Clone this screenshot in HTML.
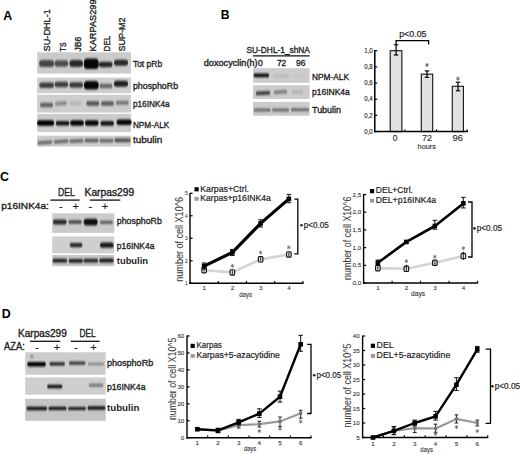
<!DOCTYPE html>
<html><head><meta charset="utf-8"><style>
html,body{margin:0;padding:0;background:#fff;width:520px;height:454px;overflow:hidden}
svg{display:block;font-family:"Liberation Sans", sans-serif}
text{font-family:"Liberation Sans", sans-serif}
</style></head><body>
<svg width="520" height="454" viewBox="0 0 520 454" fill="#1e1e1e">
<g>
<defs><filter id="bl" x="-30%" y="-100%" width="160%" height="300%"><feGaussianBlur stdDeviation="0.75 0.95"/></filter><filter id="soft" x="-5%" y="-5%" width="110%" height="110%"><feGaussianBlur stdDeviation="0.35"/></filter></defs>
<text transform="translate(3.3,20.1)" font-size="12.4" font-weight="bold" fill="#000">A</text>
<text transform="translate(220.8,19.2)" font-size="12.2" font-weight="bold" fill="#000">B</text>
<text transform="translate(-0.1,181.1)" font-size="12.4" font-weight="bold" fill="#000">C</text>
<text transform="translate(1.8,318.2)" font-size="12.4" font-weight="bold" fill="#000">D</text>
<text transform="translate(50.4,51.4) rotate(-90) scale(0.9359,1)" font-size="9.8" stroke="#1e1e1e" stroke-width="0.35">SU-DHL-1</text>
<text transform="translate(65.89999999999999,51.4) rotate(-90) scale(0.7187,1)" font-size="9.8" stroke="#1e1e1e" stroke-width="0.35">TS</text>
<text transform="translate(80.89999999999999,51.4) rotate(-90) scale(0.8705,1)" font-size="9.8" stroke="#1e1e1e" stroke-width="0.35">JB6</text>
<text transform="translate(95.6,51.4) rotate(-90) scale(0.9389,1)" font-size="9.8" stroke="#1e1e1e" stroke-width="0.35">KARPAS299</text>
<text transform="translate(110.39999999999999,51.4) rotate(-90) scale(0.8235,1)" font-size="9.8" stroke="#1e1e1e" stroke-width="0.35">DEL</text>
<text transform="translate(125.3,51.4) rotate(-90) scale(0.9128,1)" font-size="9.8" stroke="#1e1e1e" stroke-width="0.35">SUP-M2</text>
<rect x="37.2" y="52.3" width="93.8" height="21.299999999999997" fill="#cbcbcb" filter="url(#soft)"/>
<rect x="37.2" y="77.6" width="93.8" height="15.600000000000009" fill="#cecece" filter="url(#soft)"/>
<rect x="37.2" y="94.8" width="93.8" height="17.799999999999997" fill="#cdcdcd" filter="url(#soft)"/>
<rect x="37.2" y="113.9" width="93.8" height="18.099999999999994" fill="#cbcbcb" filter="url(#soft)"/>
<rect x="37.2" y="135.6" width="93.8" height="11.0" fill="#cecece" filter="url(#soft)"/>
<rect x="39.00" y="60.10" width="15.20" height="7.00" rx="3.50" fill="#000" fill-opacity="0.66" filter="url(#bl)"/>
<rect x="54.55" y="60.35" width="13.70" height="6.50" rx="3.25" fill="#000" fill-opacity="0.62" filter="url(#bl)"/>
<rect x="69.35" y="59.90" width="13.70" height="7.00" rx="3.50" fill="#000" fill-opacity="0.8" filter="url(#bl)"/>
<rect x="83.95" y="58.55" width="14.70" height="10.50" rx="3.50" fill="#000" fill-opacity="0.97" filter="url(#bl)"/>
<rect x="98.85" y="61.65" width="13.70" height="5.50" rx="2.75" fill="#000" fill-opacity="0.82" filter="url(#bl)"/>
<rect x="113.90" y="59.70" width="14.20" height="6.00" rx="3.00" fill="#000" fill-opacity="0.8" filter="url(#bl)"/>
<rect x="39.25" y="82.45" width="14.70" height="5.50" rx="2.75" fill="#000" fill-opacity="0.7" filter="url(#bl)"/>
<rect x="54.55" y="81.85" width="13.70" height="5.50" rx="2.75" fill="#000" fill-opacity="0.7" filter="url(#bl)"/>
<rect x="69.35" y="82.25" width="13.70" height="5.50" rx="2.75" fill="#000" fill-opacity="0.72" filter="url(#bl)"/>
<rect x="83.95" y="81.05" width="14.70" height="8.50" rx="3.50" fill="#000" fill-opacity="0.97" filter="url(#bl)"/>
<rect x="99.30" y="83.75" width="13.20" height="4.50" rx="2.25" fill="#000" fill-opacity="0.5" filter="url(#bl)"/>
<rect x="113.90" y="80.70" width="14.20" height="6.00" rx="3.00" fill="#000" fill-opacity="0.85" filter="url(#bl)"/>
<rect x="40.00" y="102.65" width="13.20" height="4.50" rx="2.25" fill="#000" fill-opacity="0.52" filter="url(#bl)"/>
<rect x="54.90" y="101.50" width="12.20" height="4.00" rx="2.00" fill="#000" fill-opacity="0.34" filter="url(#bl)" transform="rotate(-5 61.0 103.5)"/>
<rect x="69.60" y="101.45" width="12.20" height="3.50" rx="1.75" fill="#000" fill-opacity="0.12" filter="url(#bl)"/>
<rect x="86.20" y="101.15" width="13.20" height="4.50" rx="2.25" fill="#000" fill-opacity="0.6" filter="url(#bl)"/>
<rect x="100.90" y="101.25" width="13.20" height="4.50" rx="2.25" fill="#000" fill-opacity="0.55" filter="url(#bl)"/>
<rect x="115.70" y="100.80" width="13.20" height="4.00" rx="2.00" fill="#000" fill-opacity="0.42" filter="url(#bl)"/>
<rect x="37.00" y="120.25" width="17.20" height="5.50" rx="2.75" fill="#000" fill-opacity="1.0" filter="url(#bl)"/>
<rect x="55.75" y="121.05" width="13.70" height="4.50" rx="2.25" fill="#000" fill-opacity="0.92" filter="url(#bl)"/>
<rect x="70.15" y="120.25" width="13.70" height="5.50" rx="2.75" fill="#000" fill-opacity="0.97" filter="url(#bl)"/>
<rect x="84.95" y="120.15" width="13.70" height="5.50" rx="2.75" fill="#000" fill-opacity="0.97" filter="url(#bl)"/>
<rect x="100.35" y="121.10" width="13.70" height="4.60" rx="2.30" fill="#000" fill-opacity="0.9" filter="url(#bl)"/>
<rect x="116.50" y="119.45" width="15.20" height="5.50" rx="2.75" fill="#000" fill-opacity="0.97" filter="url(#bl)"/>
<rect x="37.40" y="140.75" width="15.20" height="3.50" rx="1.75" fill="#000" fill-opacity="0.5" filter="url(#bl)" transform="rotate(-4 45 142.5)"/>
<rect x="53.85" y="139.85" width="14.70" height="3.50" rx="1.75" fill="#000" fill-opacity="0.5" filter="url(#bl)" transform="rotate(-4 61.2 141.6)"/>
<rect x="69.40" y="139.35" width="14.20" height="3.50" rx="1.75" fill="#000" fill-opacity="0.5" filter="url(#bl)" transform="rotate(-3 76.5 141.1)"/>
<rect x="84.40" y="138.85" width="14.20" height="3.50" rx="1.75" fill="#000" fill-opacity="0.55" filter="url(#bl)"/>
<rect x="99.40" y="138.95" width="14.20" height="3.50" rx="1.75" fill="#000" fill-opacity="0.5" filter="url(#bl)"/>
<rect x="114.40" y="138.20" width="16.20" height="4.00" rx="2.00" fill="#000" fill-opacity="0.6" filter="url(#bl)"/>
<text transform="translate(132.9,66.7) scale(0.8856,1)" font-size="9.6" stroke="#1e1e1e" stroke-width="0.35">Tot pRb</text>
<text transform="translate(132.9,88.6) scale(0.9204,1)" font-size="9.6" stroke="#1e1e1e" stroke-width="0.35">phosphoRb</text>
<text transform="translate(132.9,107.0) scale(0.8595,1)" font-size="9.6" stroke="#1e1e1e" stroke-width="0.35">p16INK4a</text>
<text transform="translate(132.9,128.0) scale(0.8506,1)" font-size="9.6" stroke="#1e1e1e" stroke-width="0.35">NPM-ALK</text>
<text transform="translate(132.9,143.1) scale(1.0357,1)" font-size="9.6" stroke="#1e1e1e" stroke-width="0.35">tubulin</text>
<text transform="translate(246.5,52.6) scale(0.8873,1)" font-size="9.4" stroke="#1e1e1e" stroke-width="0.35">SU-DHL-1_shNA</text>
<line x1="253.0" y1="55.8" x2="309.6" y2="55.8" stroke="#111" stroke-width="1.3"/>
<text transform="translate(203.8,66.2) scale(1.0619,1)" font-size="8.6" stroke="#1e1e1e" stroke-width="0.35">doxocyclin(h)</text>
<text transform="translate(258.0,66.2)" font-size="8.6" stroke="#1e1e1e" stroke-width="0.35">0</text>
<text transform="translate(277.0,66.2) scale(0.9618,1)" font-size="8.6" stroke="#1e1e1e" stroke-width="0.35">72</text>
<text transform="translate(296.0,66.2) scale(0.9827,1)" font-size="8.6" stroke="#1e1e1e" stroke-width="0.35">96</text>
<rect x="253.0" y="68.2" width="56.60000000000002" height="14.599999999999994" fill="#cdcdcd" filter="url(#soft)"/>
<rect x="253.0" y="85.2" width="56.60000000000002" height="13.700000000000003" fill="#cbcbcb" filter="url(#soft)"/>
<rect x="253.0" y="101.9" width="56.60000000000002" height="13.899999999999991" fill="#cbcbcb" filter="url(#soft)"/>
<rect x="253.55" y="73.40" width="15.70" height="3.80" rx="1.90" fill="#000" fill-opacity="0.95" filter="url(#bl)"/>
<rect x="272.90" y="74.40" width="16.20" height="3.00" rx="1.50" fill="#000" fill-opacity="0.1" filter="url(#bl)"/>
<rect x="293.40" y="74.50" width="13.20" height="3.00" rx="1.50" fill="#000" fill-opacity="0.04" filter="url(#bl)"/>
<rect x="255.65" y="91.30" width="14.70" height="3.80" rx="1.90" fill="#000" fill-opacity="0.7" filter="url(#bl)" transform="rotate(-3 263.0 93.2)"/>
<rect x="273.55" y="90.50" width="13.70" height="3.00" rx="1.50" fill="#000" fill-opacity="0.45" filter="url(#bl)" transform="rotate(-4 280.4 92.0)"/>
<rect x="291.55" y="90.40" width="11.70" height="2.80" rx="1.40" fill="#000" fill-opacity="0.15" filter="url(#bl)"/>
<rect x="253.60" y="108.40" width="17.20" height="3.00" rx="1.50" fill="#000" fill-opacity="0.5" filter="url(#bl)"/>
<rect x="272.00" y="108.60" width="17.20" height="3.00" rx="1.50" fill="#000" fill-opacity="0.5" filter="url(#bl)"/>
<rect x="290.90" y="108.30" width="18.20" height="3.00" rx="1.50" fill="#000" fill-opacity="0.5" filter="url(#bl)"/>
<text transform="translate(312.0,79.8) scale(0.9146,1)" font-size="9.1" stroke="#1e1e1e" stroke-width="0.35">NPM-ALK</text>
<text transform="translate(312.0,95.0) scale(0.9339,1)" font-size="9.1" stroke="#1e1e1e" stroke-width="0.35">p16INK4a</text>
<text transform="translate(312.0,112.9) scale(0.9828,1)" font-size="9.1" stroke="#1e1e1e" stroke-width="0.35">Tubulin</text>
<rect x="390.2" y="50.7" width="11.699999999999989" height="80.89999999999999" fill="#e2e2e2" stroke="#111" stroke-width="1.1" />
<rect x="421.3" y="74.161" width="11.399999999999977" height="57.43899999999999" fill="#e2e2e2" stroke="#111" stroke-width="1.1" />
<rect x="452.3" y="86.29599999999999" width="11.099999999999966" height="45.304" fill="#e2e2e2" stroke="#111" stroke-width="1.1" />
<line x1="374.8" y1="50.0" x2="374.8" y2="132.2" stroke="#000" stroke-width="1.5"/>
<line x1="374.0" y1="131.6" x2="467.8" y2="131.6" stroke="#000" stroke-width="1.5"/>
<line x1="374.8" y1="131.6" x2="377.2" y2="131.6" stroke="#000" stroke-width="1.2"/>
<line x1="374.8" y1="115.41999999999999" x2="377.2" y2="115.41999999999999" stroke="#000" stroke-width="1.2"/>
<line x1="374.8" y1="99.24" x2="377.2" y2="99.24" stroke="#000" stroke-width="1.2"/>
<line x1="374.8" y1="83.06" x2="377.2" y2="83.06" stroke="#000" stroke-width="1.2"/>
<line x1="374.8" y1="66.88" x2="377.2" y2="66.88" stroke="#000" stroke-width="1.2"/>
<line x1="374.8" y1="50.7" x2="377.2" y2="50.7" stroke="#000" stroke-width="1.2"/>
<line x1="405.0" y1="131.6" x2="405.0" y2="129.4" stroke="#000" stroke-width="1.2"/>
<line x1="436.5" y1="131.6" x2="436.5" y2="129.4" stroke="#000" stroke-width="1.2"/>
<line x1="467.2" y1="131.6" x2="467.2" y2="129.4" stroke="#000" stroke-width="1.2"/>
<text transform="translate(372.8,133.79999999999998) scale(0.9373,1)" font-size="6.6" stroke="#1e1e1e" stroke-width="0.12" text-anchor="end">0,0</text>
<text transform="translate(372.8,117.61999999999999) scale(0.9373,1)" font-size="6.6" stroke="#1e1e1e" stroke-width="0.12" text-anchor="end">0,2</text>
<text transform="translate(372.8,101.44) scale(0.9373,1)" font-size="6.6" stroke="#1e1e1e" stroke-width="0.12" text-anchor="end">0,4</text>
<text transform="translate(372.8,85.26) scale(0.9373,1)" font-size="6.6" stroke="#1e1e1e" stroke-width="0.12" text-anchor="end">0,6</text>
<text transform="translate(372.8,69.08) scale(0.9373,1)" font-size="6.6" stroke="#1e1e1e" stroke-width="0.12" text-anchor="end">0,8</text>
<text transform="translate(372.8,52.900000000000006) scale(0.9373,1)" font-size="6.6" stroke="#1e1e1e" stroke-width="0.12" text-anchor="end">1,0</text>
<line x1="396.1" y1="44.8" x2="396.1" y2="55.0" stroke="#000" stroke-width="1.2"/>
<line x1="393.90000000000003" y1="44.8" x2="398.3" y2="44.8" stroke="#000" stroke-width="1.2"/>
<line x1="393.90000000000003" y1="55.0" x2="398.3" y2="55.0" stroke="#000" stroke-width="1.2"/>
<line x1="427.0" y1="70.9" x2="427.0" y2="77.4" stroke="#000" stroke-width="1.2"/>
<line x1="424.8" y1="70.9" x2="429.2" y2="70.9" stroke="#000" stroke-width="1.2"/>
<line x1="424.8" y1="77.4" x2="429.2" y2="77.4" stroke="#000" stroke-width="1.2"/>
<line x1="458.0" y1="82.2" x2="458.0" y2="90.8" stroke="#000" stroke-width="1.2"/>
<line x1="455.8" y1="82.2" x2="460.2" y2="82.2" stroke="#000" stroke-width="1.2"/>
<line x1="455.8" y1="90.8" x2="460.2" y2="90.8" stroke="#000" stroke-width="1.2"/>
<path d="M427.00 63.00L427.00 67.00M425.27 64.00L428.73 66.00M428.73 64.00L425.27 66.00" stroke="#555" stroke-width="0.8" fill="none"/>
<path d="M458.00 76.60L458.00 80.60M456.27 77.60L459.73 79.60M459.73 77.60L456.27 79.60" stroke="#555" stroke-width="0.8" fill="none"/>
<path d="M396.1 44.8 V40.6 H428.6 V44.4" stroke="#000" stroke-width="1.3" fill="none" />
<text transform="translate(399.2,37.2) scale(1.0051,1)" font-size="8.8" stroke="#1e1e1e" stroke-width="0.2">p&lt;0.05</text>
<text transform="translate(395.0,141.3)" font-size="8.4" stroke="#1e1e1e" stroke-width="0.1" text-anchor="middle">0</text>
<text transform="translate(427.0,141.3) scale(1.0703,1)" font-size="8.4" stroke="#1e1e1e" stroke-width="0.1" text-anchor="middle">72</text>
<text transform="translate(457.8,141.3) scale(1.1238,1)" font-size="8.4" stroke="#1e1e1e" stroke-width="0.1" text-anchor="middle">96</text>
<text transform="translate(426.8,148.6) scale(0.9195,1)" font-size="8.0" stroke="#1e1e1e" stroke-width="0.1" text-anchor="middle">hours</text>
<text transform="translate(1.2,209.3) scale(1.0322,1)" font-size="9.8" stroke="#1e1e1e" stroke-width="0.35">p16INK4a:</text>
<text transform="translate(58.0,195.9) scale(0.8739,1)" font-size="10.0" stroke="#1e1e1e" stroke-width="0.35">DEL</text>
<text transform="translate(84.6,196.2) scale(1.0254,1)" font-size="10.0" stroke="#1e1e1e" stroke-width="0.35">Karpas299</text>
<line x1="50.4" y1="200.1" x2="79.6" y2="200.1" stroke="#111" stroke-width="1.3"/>
<line x1="89.8" y1="200.1" x2="120.3" y2="200.1" stroke="#111" stroke-width="1.3"/>
<text transform="translate(60.8,210.3)" font-size="11.0" stroke="#1e1e1e" stroke-width="0.15" text-anchor="middle">-</text>
<text transform="translate(75.7,210.3)" font-size="11.0" stroke="#1e1e1e" stroke-width="0.15" text-anchor="middle">+</text>
<text transform="translate(90.3,210.3)" font-size="11.0" stroke="#1e1e1e" stroke-width="0.15" text-anchor="middle">-</text>
<text transform="translate(105.0,210.3)" font-size="11.0" stroke="#1e1e1e" stroke-width="0.15" text-anchor="middle">+</text>
<rect x="52.2" y="213.3" width="62.099999999999994" height="19.599999999999994" fill="#cbcbcb" filter="url(#soft)"/>
<rect x="52.2" y="236.4" width="62.099999999999994" height="17.0" fill="#cfcfcf" filter="url(#soft)"/>
<rect x="52.2" y="255.0" width="62.099999999999994" height="11.199999999999989" fill="#c6c6c6" filter="url(#soft)"/>
<rect x="52.95" y="219.40" width="13.70" height="5.00" rx="2.50" fill="#000" fill-opacity="0.8" filter="url(#bl)"/>
<rect x="68.25" y="220.20" width="13.70" height="3.60" rx="1.80" fill="#000" fill-opacity="0.66" filter="url(#bl)"/>
<rect x="83.60" y="218.70" width="14.20" height="6.80" rx="3.40" fill="#000" fill-opacity="0.92" filter="url(#bl)"/>
<rect x="99.80" y="220.70" width="13.20" height="3.20" rx="1.60" fill="#000" fill-opacity="0.55" filter="url(#bl)"/>
<rect x="69.60" y="242.95" width="13.00" height="4.30" rx="2.15" fill="#000" fill-opacity="0.82" filter="url(#bl)"/>
<rect x="99.95" y="242.55" width="13.70" height="5.30" rx="2.65" fill="#000" fill-opacity="0.88" filter="url(#bl)"/>
<rect x="52.45" y="258.80" width="14.70" height="3.80" rx="1.90" fill="#000" fill-opacity="0.85" filter="url(#bl)"/>
<rect x="68.45" y="258.90" width="14.70" height="3.80" rx="1.90" fill="#000" fill-opacity="0.85" filter="url(#bl)"/>
<rect x="83.45" y="258.80" width="14.70" height="3.80" rx="1.90" fill="#000" fill-opacity="0.82" filter="url(#bl)"/>
<rect x="99.15" y="258.60" width="14.70" height="3.80" rx="1.90" fill="#000" fill-opacity="0.87" filter="url(#bl)"/>
<text transform="translate(116.8,224.2) scale(0.9184,1)" font-size="9.6" stroke="#1e1e1e" stroke-width="0.35">phosphoRb</text>
<text transform="translate(116.8,249.1) scale(0.8806,1)" font-size="9.6" stroke="#1e1e1e" stroke-width="0.35">p16INK4a</text>
<text transform="translate(116.8,264.1) scale(0.9754,1)" font-size="9.6" font-weight="bold">tubulin</text>
<line x1="190.0" y1="193.0" x2="190.0" y2="283.9" stroke="#000" stroke-width="1.4"/>
<line x1="189.3" y1="283.2" x2="303.5" y2="283.2" stroke="#000" stroke-width="1.4"/>
<line x1="190.0" y1="283.2" x2="192.6" y2="283.2" stroke="#000" stroke-width="1.2"/>
<line x1="190.0" y1="260.71999999999997" x2="192.6" y2="260.71999999999997" stroke="#000" stroke-width="1.2"/>
<line x1="190.0" y1="238.23999999999998" x2="192.6" y2="238.23999999999998" stroke="#000" stroke-width="1.2"/>
<line x1="190.0" y1="215.76" x2="192.6" y2="215.76" stroke="#000" stroke-width="1.2"/>
<line x1="190.0" y1="193.27999999999997" x2="192.6" y2="193.27999999999997" stroke="#000" stroke-width="1.2"/>
<line x1="218.25" y1="283.2" x2="218.25" y2="281.0" stroke="#000" stroke-width="1.1"/>
<line x1="246.5" y1="283.2" x2="246.5" y2="281.0" stroke="#000" stroke-width="1.1"/>
<line x1="274.75" y1="283.2" x2="274.75" y2="281.0" stroke="#000" stroke-width="1.1"/>
<line x1="303.0" y1="283.2" x2="303.0" y2="281.0" stroke="#000" stroke-width="1.1"/>
<text transform="translate(187.6,285.3) scale(0.7540,1)" font-size="6.2" stroke="#333" stroke-width="0.1" text-anchor="end" fill="#333">1</text>
<text transform="translate(187.6,262.82) scale(0.7540,1)" font-size="6.2" stroke="#333" stroke-width="0.1" text-anchor="end" fill="#333">2</text>
<text transform="translate(187.6,240.33999999999997) scale(0.7540,1)" font-size="6.2" stroke="#333" stroke-width="0.1" text-anchor="end" fill="#333">3</text>
<text transform="translate(187.6,217.85999999999999) scale(0.7540,1)" font-size="6.2" stroke="#333" stroke-width="0.1" text-anchor="end" fill="#333">4</text>
<text transform="translate(187.6,195.37999999999997) scale(0.7540,1)" font-size="6.2" stroke="#333" stroke-width="0.1" text-anchor="end" fill="#333">5</text>
<text transform="translate(204.125,290.3)" font-size="6.2" stroke="#333" stroke-width="0.1" text-anchor="middle" fill="#333">1</text>
<text transform="translate(232.375,290.3)" font-size="6.2" stroke="#333" stroke-width="0.1" text-anchor="middle" fill="#333">2</text>
<text transform="translate(260.625,290.3)" font-size="6.2" stroke="#333" stroke-width="0.1" text-anchor="middle" fill="#333">3</text>
<text transform="translate(288.875,290.3)" font-size="6.2" stroke="#333" stroke-width="0.1" text-anchor="middle" fill="#333">4</text>
<text transform="translate(245.6,297.4) scale(0.9468,1)" font-size="6.4" stroke="#333" stroke-width="0.1" text-anchor="middle" fill="#333">days</text>
<polyline points="204.1,270.2 232.4,272.4 260.6,259.4 288.9,254.4" fill="none" stroke="#d4d4d4" stroke-width="2.6" stroke-linejoin="round"/>
<line x1="204.125" y1="271.5104" x2="204.125" y2="268.58799999999997" stroke="#111" stroke-width="0.9"/>
<rect x="201.82" y="267.46" width="4.6" height="5.4" rx="1.0" fill="#e6e6e6" stroke="#111" stroke-width="1.1"/>
<line x1="204.125" y1="271.5104" x2="204.125" y2="268.58799999999997" stroke="#111" stroke-width="0.9"/>
<line x1="232.375" y1="274.20799999999997" x2="232.375" y2="270.6112" stroke="#111" stroke-width="0.9"/>
<rect x="230.07" y="269.71" width="4.6" height="5.4" rx="1.0" fill="#e6e6e6" stroke="#111" stroke-width="1.1"/>
<line x1="232.375" y1="274.20799999999997" x2="232.375" y2="270.6112" stroke="#111" stroke-width="0.9"/>
<line x1="260.625" y1="260.71999999999997" x2="260.625" y2="257.5728" stroke="#111" stroke-width="0.9"/>
<rect x="258.32" y="256.67" width="4.6" height="5.4" rx="1.0" fill="#e6e6e6" stroke="#111" stroke-width="1.1"/>
<line x1="260.625" y1="260.71999999999997" x2="260.625" y2="257.5728" stroke="#111" stroke-width="0.9"/>
<line x1="288.875" y1="256.67359999999996" x2="288.875" y2="252.17759999999998" stroke="#111" stroke-width="0.9"/>
<rect x="286.57" y="251.73" width="4.6" height="5.4" rx="1.0" fill="#e6e6e6" stroke="#111" stroke-width="1.1"/>
<line x1="288.875" y1="256.67359999999996" x2="288.875" y2="252.17759999999998" stroke="#111" stroke-width="0.9"/>
<polyline points="204.1,266.1 232.4,252.4 260.6,223.4 288.9,198.9" fill="none" stroke="#000" stroke-width="3.2" stroke-linejoin="round"/>
<line x1="204.125" y1="269.0376" x2="204.125" y2="262.96799999999996" stroke="#111" stroke-width="1.0"/>
<line x1="201.825" y1="269.0376" x2="206.425" y2="269.0376" stroke="#111" stroke-width="1.0"/>
<line x1="201.825" y1="262.96799999999996" x2="206.425" y2="262.96799999999996" stroke="#111" stroke-width="1.0"/>
<rect x="201.825" y="263.81519999999995" width="4.6" height="4.6" fill="#000" />
<line x1="232.375" y1="255.5496" x2="232.375" y2="249.48" stroke="#111" stroke-width="1.0"/>
<line x1="230.075" y1="255.5496" x2="234.675" y2="255.5496" stroke="#111" stroke-width="1.0"/>
<line x1="230.075" y1="249.48" x2="234.675" y2="249.48" stroke="#111" stroke-width="1.0"/>
<rect x="230.075" y="250.1024" width="4.6" height="4.6" fill="#000" />
<line x1="260.625" y1="227.0" x2="260.625" y2="219.8064" stroke="#111" stroke-width="1.0"/>
<line x1="258.325" y1="227.0" x2="262.925" y2="227.0" stroke="#111" stroke-width="1.0"/>
<line x1="258.325" y1="219.8064" x2="262.925" y2="219.8064" stroke="#111" stroke-width="1.0"/>
<rect x="258.325" y="221.10319999999996" width="4.6" height="4.6" fill="#000" />
<line x1="288.875" y1="202.72159999999997" x2="288.875" y2="194.404" stroke="#111" stroke-width="1.0"/>
<line x1="286.575" y1="202.72159999999997" x2="291.175" y2="202.72159999999997" stroke="#111" stroke-width="1.0"/>
<line x1="286.575" y1="194.404" x2="291.175" y2="194.404" stroke="#111" stroke-width="1.0"/>
<rect x="286.575" y="196.59999999999997" width="4.6" height="4.6" fill="#000" />
<path d="M232.38 263.90L232.38 267.90M230.64 264.90L234.11 266.90M234.11 264.90L230.64 266.90" stroke="#666" stroke-width="0.8" fill="none"/>
<path d="M260.62 250.50L260.62 254.50M258.89 251.50L262.36 253.50M262.36 251.50L258.89 253.50" stroke="#666" stroke-width="0.8" fill="none"/>
<path d="M288.88 245.30L288.88 249.30M287.14 246.30L290.61 248.30M290.61 246.30L287.14 248.30" stroke="#666" stroke-width="0.8" fill="none"/>
<path d="M294.4 199.1 H297.8 V253.8 H294.4" stroke="#000" stroke-width="1.3" fill="none" />
<circle cx="301.50" cy="225.30" r="1.3" fill="#222"/>
<text transform="translate(303.8,227.9) scale(0.9681,1)" font-size="8.4" stroke="#1e1e1e" stroke-width="0.2">p&lt;0.05</text>
<rect x="194.5" y="187.2" width="4.2" height="4.2" fill="#000" />
<rect x="194.5" y="197.0" width="4.2" height="3.8" fill="#9a9a9a" />
<text transform="translate(200.3,191.6) scale(0.9928,1)" font-size="8.8" stroke="#1e1e1e" stroke-width="0.2">Karpas+Ctrl.</text>
<text transform="translate(200.3,201.2) scale(0.9784,1)" font-size="8.8" stroke="#1e1e1e" stroke-width="0.2">Karpas+p16INK4a</text>
<text transform="translate(183.3,281.7) rotate(-90) scale(0.8224,1)" font-size="11.0" stroke="#3a3a3a" stroke-width="0.05" fill="#3a3a3a">number of cell X10^6</text>
<line x1="363.6" y1="194.0" x2="363.6" y2="283.7" stroke="#000" stroke-width="1.4"/>
<line x1="362.90000000000003" y1="283.0" x2="478.1" y2="283.0" stroke="#000" stroke-width="1.4"/>
<line x1="363.6" y1="283.0" x2="366.20000000000005" y2="283.0" stroke="#000" stroke-width="1.2"/>
<line x1="363.6" y1="265.3" x2="366.20000000000005" y2="265.3" stroke="#000" stroke-width="1.2"/>
<line x1="363.6" y1="247.6" x2="366.20000000000005" y2="247.6" stroke="#000" stroke-width="1.2"/>
<line x1="363.6" y1="229.9" x2="366.20000000000005" y2="229.9" stroke="#000" stroke-width="1.2"/>
<line x1="363.6" y1="212.2" x2="366.20000000000005" y2="212.2" stroke="#000" stroke-width="1.2"/>
<line x1="363.6" y1="194.5" x2="366.20000000000005" y2="194.5" stroke="#000" stroke-width="1.2"/>
<line x1="392.1" y1="283.0" x2="392.1" y2="280.8" stroke="#000" stroke-width="1.1"/>
<line x1="420.6" y1="283.0" x2="420.6" y2="280.8" stroke="#000" stroke-width="1.1"/>
<line x1="449.1" y1="283.0" x2="449.1" y2="280.8" stroke="#000" stroke-width="1.1"/>
<line x1="477.6" y1="283.0" x2="477.6" y2="280.8" stroke="#000" stroke-width="1.1"/>
<text transform="translate(361.2,285.1)" font-size="6.2" stroke="#333" stroke-width="0.1" text-anchor="end" fill="#333">0,0</text>
<text transform="translate(361.2,267.40000000000003)" font-size="6.2" stroke="#333" stroke-width="0.1" text-anchor="end" fill="#333">0,5</text>
<text transform="translate(361.2,249.7)" font-size="6.2" stroke="#333" stroke-width="0.1" text-anchor="end" fill="#333">1,0</text>
<text transform="translate(361.2,232.0)" font-size="6.2" stroke="#333" stroke-width="0.1" text-anchor="end" fill="#333">1,5</text>
<text transform="translate(361.2,214.29999999999998)" font-size="6.2" stroke="#333" stroke-width="0.1" text-anchor="end" fill="#333">2,0</text>
<text transform="translate(361.2,196.6)" font-size="6.2" stroke="#333" stroke-width="0.1" text-anchor="end" fill="#333">2,5</text>
<text transform="translate(377.85,289.6)" font-size="6.2" stroke="#333" stroke-width="0.1" text-anchor="middle" fill="#333">1</text>
<text transform="translate(406.35,289.6)" font-size="6.2" stroke="#333" stroke-width="0.1" text-anchor="middle" fill="#333">2</text>
<text transform="translate(434.85,289.6)" font-size="6.2" stroke="#333" stroke-width="0.1" text-anchor="middle" fill="#333">3</text>
<text transform="translate(463.35,289.6)" font-size="6.2" stroke="#333" stroke-width="0.1" text-anchor="middle" fill="#333">4</text>
<text transform="translate(418.0,295.8) scale(1.0356,1)" font-size="6.4" stroke="#333" stroke-width="0.1" text-anchor="middle" fill="#333">days</text>
<polyline points="377.9,268.1 406.4,268.8 434.9,262.8 463.4,256.1" fill="none" stroke="#d4d4d4" stroke-width="2.6" stroke-linejoin="round"/>
<line x1="377.85" y1="269.548" x2="377.85" y2="266.008" stroke="#111" stroke-width="0.9"/>
<rect x="375.55" y="265.43" width="4.6" height="5.4" rx="1.0" fill="#e6e6e6" stroke="#111" stroke-width="1.1"/>
<line x1="377.85" y1="269.548" x2="377.85" y2="266.008" stroke="#111" stroke-width="0.9"/>
<line x1="406.35" y1="272.026" x2="406.35" y2="264.946" stroke="#111" stroke-width="0.9"/>
<rect x="404.05" y="266.14" width="4.6" height="5.4" rx="1.0" fill="#e6e6e6" stroke="#111" stroke-width="1.1"/>
<line x1="406.35" y1="272.026" x2="406.35" y2="264.946" stroke="#111" stroke-width="0.9"/>
<line x1="434.85" y1="264.946" x2="434.85" y2="261.052" stroke="#111" stroke-width="0.9"/>
<rect x="432.55" y="260.12" width="4.6" height="5.4" rx="1.0" fill="#e6e6e6" stroke="#111" stroke-width="1.1"/>
<line x1="434.85" y1="264.946" x2="434.85" y2="261.052" stroke="#111" stroke-width="0.9"/>
<line x1="463.35" y1="259.636" x2="463.35" y2="251.848" stroke="#111" stroke-width="0.9"/>
<rect x="461.05" y="253.40" width="4.6" height="5.4" rx="1.0" fill="#e6e6e6" stroke="#111" stroke-width="1.1"/>
<line x1="463.35" y1="259.636" x2="463.35" y2="251.848" stroke="#111" stroke-width="0.9"/>
<polyline points="377.9,262.8 406.4,241.9 434.9,226.0 463.4,203.4" fill="none" stroke="#000" stroke-width="2.6" stroke-linejoin="round"/>
<line x1="377.85" y1="265.3" x2="377.85" y2="259.99" stroke="#111" stroke-width="1.0"/>
<line x1="375.55" y1="265.3" x2="380.15000000000003" y2="265.3" stroke="#111" stroke-width="1.0"/>
<line x1="375.55" y1="259.99" x2="380.15000000000003" y2="259.99" stroke="#111" stroke-width="1.0"/>
<rect x="375.55" y="260.522" width="4.6" height="4.6" fill="#000" />
<line x1="406.35" y1="243.352" x2="406.35" y2="240.52" stroke="#111" stroke-width="1.0"/>
<line x1="404.05" y1="243.352" x2="408.65000000000003" y2="243.352" stroke="#111" stroke-width="1.0"/>
<line x1="404.05" y1="240.52" x2="408.65000000000003" y2="240.52" stroke="#111" stroke-width="1.0"/>
<rect x="404.05" y="239.636" width="4.6" height="4.6" fill="#000" />
<line x1="434.85" y1="229.192" x2="434.85" y2="220.34199999999998" stroke="#111" stroke-width="1.0"/>
<line x1="432.55" y1="229.192" x2="437.15000000000003" y2="229.192" stroke="#111" stroke-width="1.0"/>
<line x1="432.55" y1="220.34199999999998" x2="437.15000000000003" y2="220.34199999999998" stroke="#111" stroke-width="1.0"/>
<rect x="432.55" y="223.706" width="4.6" height="4.6" fill="#000" />
<line x1="463.35" y1="207.952" x2="463.35" y2="197.332" stroke="#111" stroke-width="1.0"/>
<line x1="461.05" y1="207.952" x2="465.65000000000003" y2="207.952" stroke="#111" stroke-width="1.0"/>
<line x1="461.05" y1="197.332" x2="465.65000000000003" y2="197.332" stroke="#111" stroke-width="1.0"/>
<rect x="461.05" y="201.05" width="4.6" height="4.6" fill="#000" />
<path d="M406.35 259.20L406.35 263.20M404.62 260.20L408.08 262.20M408.08 260.20L404.62 262.20" stroke="#666" stroke-width="0.8" fill="none"/>
<path d="M434.85 254.70L434.85 258.70M433.12 255.70L436.58 257.70M436.58 255.70L433.12 257.70" stroke="#666" stroke-width="0.8" fill="none"/>
<path d="M463.35 246.20L463.35 250.20M461.62 247.20L465.08 249.20M465.08 247.20L461.62 249.20" stroke="#666" stroke-width="0.8" fill="none"/>
<path d="M468.0 202.0 H472.0 V257.0 H468.0" stroke="#000" stroke-width="1.3" fill="none" />
<circle cx="474.50" cy="228.40" r="1.3" fill="#222"/>
<text transform="translate(476.8,231.0) scale(0.9720,1)" font-size="8.4" stroke="#1e1e1e" stroke-width="0.2">p&lt;0.05</text>
<rect x="370.0" y="189.0" width="4.2" height="4.2" fill="#000" />
<rect x="370.0" y="198.8" width="4.2" height="3.8" fill="#9a9a9a" />
<text transform="translate(375.8,193.4) scale(0.9690,1)" font-size="8.8" stroke="#1e1e1e" stroke-width="0.2">DEL+Ctrl.</text>
<text transform="translate(375.8,203.0) scale(0.9821,1)" font-size="8.8" stroke="#1e1e1e" stroke-width="0.2">DEL+p16INK4a</text>
<text transform="translate(350.8,279.9) rotate(-90) scale(0.8088,1)" font-size="11.0" stroke="#3a3a3a" stroke-width="0.05" fill="#3a3a3a">number of cell X10^6</text>
<text transform="translate(17.9,337.4) scale(1.0130,1)" font-size="10.0" stroke="#1e1e1e" stroke-width="0.35">Karpas299</text>
<text transform="translate(79.4,337.4) scale(0.8430,1)" font-size="10.0" stroke="#1e1e1e" stroke-width="0.35">DEL</text>
<line x1="30.0" y1="341.3" x2="60.2" y2="341.3" stroke="#111" stroke-width="1.3"/>
<line x1="70.8" y1="341.3" x2="99.6" y2="341.3" stroke="#111" stroke-width="1.3"/>
<text transform="translate(4.0,350.2) scale(0.9358,1)" font-size="10.0" stroke="#1e1e1e" stroke-width="0.35">AZA:</text>
<text transform="translate(37.1,351.3)" font-size="11.0" stroke="#1e1e1e" stroke-width="0.15" text-anchor="middle">-</text>
<text transform="translate(56.9,351.3)" font-size="11.0" stroke="#1e1e1e" stroke-width="0.15" text-anchor="middle">+</text>
<text transform="translate(76.2,351.3)" font-size="11.0" stroke="#1e1e1e" stroke-width="0.15" text-anchor="middle">-</text>
<text transform="translate(93.5,351.3)" font-size="11.0" stroke="#1e1e1e" stroke-width="0.15" text-anchor="middle">+</text>
<rect x="25.2" y="352.3" width="80.5" height="22.5" fill="#cccccc" filter="url(#soft)"/>
<rect x="25.2" y="377.4" width="80.5" height="17.30000000000001" fill="#cecece" filter="url(#soft)"/>
<rect x="25.2" y="398.8" width="80.5" height="22.0" fill="#c4c4c4" filter="url(#soft)"/>
<rect x="27.25" y="362.10" width="18.70" height="4.40" rx="2.20" fill="#000" fill-opacity="1.0" filter="url(#bl)"/>
<rect x="49.35" y="362.15" width="15.70" height="3.30" rx="1.65" fill="#000" fill-opacity="0.85" filter="url(#bl)"/>
<rect x="68.75" y="361.40" width="16.90" height="3.40" rx="1.70" fill="#000" fill-opacity="0.72" filter="url(#bl)"/>
<rect x="87.80" y="362.75" width="16.20" height="2.50" rx="1.25" fill="#000" fill-opacity="0.35" filter="url(#bl)"/>
<rect x="29.95" y="355.50" width="3.70" height="2.20" rx="1.10" fill="#000" fill-opacity="0.45" filter="url(#bl)"/>
<rect x="47.10" y="384.65" width="15.40" height="3.50" rx="1.75" fill="#000" fill-opacity="0.92" filter="url(#bl)"/>
<rect x="88.65" y="383.80" width="14.70" height="3.00" rx="1.50" fill="#000" fill-opacity="0.45" filter="url(#bl)"/>
<rect x="26.45" y="406.80" width="20.70" height="3.40" rx="1.70" fill="#000" fill-opacity="0.93" filter="url(#bl)"/>
<rect x="48.40" y="406.70" width="18.20" height="3.40" rx="1.70" fill="#000" fill-opacity="0.92" filter="url(#bl)"/>
<rect x="67.90" y="406.90" width="18.20" height="3.20" rx="1.60" fill="#000" fill-opacity="0.88" filter="url(#bl)"/>
<rect x="87.40" y="406.30" width="18.20" height="3.40" rx="1.70" fill="#000" fill-opacity="0.92" filter="url(#bl)"/>
<text transform="translate(107.0,365.8) scale(0.9408,1)" font-size="9.6" stroke="#1e1e1e" stroke-width="0.35">phosphoRb</text>
<text transform="translate(107.0,389.5) scale(0.9017,1)" font-size="9.6" stroke="#1e1e1e" stroke-width="0.35">p16INK4a</text>
<text transform="translate(107.0,411.0) scale(1.0129,1)" font-size="9.6" font-weight="bold">tubulin</text>
<line x1="187.0" y1="335.6" x2="187.0" y2="438.4" stroke="#000" stroke-width="1.4"/>
<line x1="186.3" y1="437.7" x2="311.5" y2="437.7" stroke="#000" stroke-width="1.4"/>
<line x1="187.0" y1="437.7" x2="189.6" y2="437.7" stroke="#000" stroke-width="1.2"/>
<line x1="187.0" y1="420.75" x2="189.6" y2="420.75" stroke="#000" stroke-width="1.2"/>
<line x1="187.0" y1="403.8" x2="189.6" y2="403.8" stroke="#000" stroke-width="1.2"/>
<line x1="187.0" y1="386.84999999999997" x2="189.6" y2="386.84999999999997" stroke="#000" stroke-width="1.2"/>
<line x1="187.0" y1="369.9" x2="189.6" y2="369.9" stroke="#000" stroke-width="1.2"/>
<line x1="187.0" y1="352.95" x2="189.6" y2="352.95" stroke="#000" stroke-width="1.2"/>
<line x1="187.0" y1="336.0" x2="189.6" y2="336.0" stroke="#000" stroke-width="1.2"/>
<line x1="207.66666666666666" y1="437.7" x2="207.66666666666666" y2="435.5" stroke="#000" stroke-width="1.1"/>
<line x1="228.33333333333334" y1="437.7" x2="228.33333333333334" y2="435.5" stroke="#000" stroke-width="1.1"/>
<line x1="249.0" y1="437.7" x2="249.0" y2="435.5" stroke="#000" stroke-width="1.1"/>
<line x1="269.6666666666667" y1="437.7" x2="269.6666666666667" y2="435.5" stroke="#000" stroke-width="1.1"/>
<line x1="290.33333333333337" y1="437.7" x2="290.33333333333337" y2="435.5" stroke="#000" stroke-width="1.1"/>
<line x1="311.0" y1="437.7" x2="311.0" y2="435.5" stroke="#000" stroke-width="1.1"/>
<text transform="translate(184.3,439.8)" font-size="6.2" stroke="#333" stroke-width="0.1" text-anchor="end" fill="#333">0</text>
<text transform="translate(184.3,422.85)" font-size="6.2" stroke="#333" stroke-width="0.1" text-anchor="end" fill="#333">10</text>
<text transform="translate(184.3,405.90000000000003)" font-size="6.2" stroke="#333" stroke-width="0.1" text-anchor="end" fill="#333">20</text>
<text transform="translate(184.3,388.95)" font-size="6.2" stroke="#333" stroke-width="0.1" text-anchor="end" fill="#333">30</text>
<text transform="translate(184.3,372.0)" font-size="6.2" stroke="#333" stroke-width="0.1" text-anchor="end" fill="#333">40</text>
<text transform="translate(184.3,355.05)" font-size="6.2" stroke="#333" stroke-width="0.1" text-anchor="end" fill="#333">50</text>
<text transform="translate(184.3,338.1)" font-size="6.2" stroke="#333" stroke-width="0.1" text-anchor="end" fill="#333">60</text>
<text transform="translate(197.33333333333334,445.0)" font-size="6.2" stroke="#333" stroke-width="0.1" text-anchor="middle" fill="#333">1</text>
<text transform="translate(218.0,445.0)" font-size="6.2" stroke="#333" stroke-width="0.1" text-anchor="middle" fill="#333">2</text>
<text transform="translate(238.66666666666669,445.0)" font-size="6.2" stroke="#333" stroke-width="0.1" text-anchor="middle" fill="#333">3</text>
<text transform="translate(259.33333333333337,445.0)" font-size="6.2" stroke="#333" stroke-width="0.1" text-anchor="middle" fill="#333">4</text>
<text transform="translate(280.0,445.0)" font-size="6.2" stroke="#333" stroke-width="0.1" text-anchor="middle" fill="#333">5</text>
<text transform="translate(300.6666666666667,445.0)" font-size="6.2" stroke="#333" stroke-width="0.1" text-anchor="middle" fill="#333">6</text>
<text transform="translate(250.0,450.5) scale(0.9246,1)" font-size="6.4" stroke="#333" stroke-width="0.1" text-anchor="middle" fill="#333">days</text>
<polyline points="197.3,429.2 218.0,430.8 238.7,425.2 259.3,424.1 280.0,421.4 300.7,413.3" fill="none" stroke="#9a9a9a" stroke-width="2.2" stroke-linejoin="round"/>
<rect x="195.73333333333335" y="427.62499999999994" width="3.2" height="3.2" fill="#777" />
<line x1="218.0" y1="432.615" x2="218.0" y2="428.54699999999997" stroke="#222" stroke-width="1.0"/>
<line x1="216.1" y1="432.615" x2="219.9" y2="432.615" stroke="#222" stroke-width="1.0"/>
<line x1="216.1" y1="428.54699999999997" x2="219.9" y2="428.54699999999997" stroke="#222" stroke-width="1.0"/>
<rect x="216.4" y="429.15049999999997" width="3.2" height="3.2" fill="#777" />
<line x1="238.66666666666669" y1="428.0385" x2="238.66666666666669" y2="422.95349999999996" stroke="#222" stroke-width="1.0"/>
<line x1="236.76666666666668" y1="428.0385" x2="240.5666666666667" y2="428.0385" stroke="#222" stroke-width="1.0"/>
<line x1="236.76666666666668" y1="422.95349999999996" x2="240.5666666666667" y2="422.95349999999996" stroke="#222" stroke-width="1.0"/>
<rect x="237.0666666666667" y="423.55699999999996" width="3.2" height="3.2" fill="#777" />
<line x1="259.33333333333337" y1="427.0215" x2="259.33333333333337" y2="421.25849999999997" stroke="#222" stroke-width="1.0"/>
<line x1="257.4333333333334" y1="427.0215" x2="261.23333333333335" y2="427.0215" stroke="#222" stroke-width="1.0"/>
<line x1="257.4333333333334" y1="421.25849999999997" x2="261.23333333333335" y2="421.25849999999997" stroke="#222" stroke-width="1.0"/>
<rect x="257.73333333333335" y="422.53999999999996" width="3.2" height="3.2" fill="#777" />
<line x1="280.0" y1="426.6825" x2="280.0" y2="417.021" stroke="#222" stroke-width="1.0"/>
<line x1="278.1" y1="426.6825" x2="281.9" y2="426.6825" stroke="#222" stroke-width="1.0"/>
<line x1="278.1" y1="417.021" x2="281.9" y2="417.021" stroke="#222" stroke-width="1.0"/>
<rect x="278.4" y="419.828" width="3.2" height="3.2" fill="#777" />
<line x1="300.6666666666667" y1="418.2075" x2="300.6666666666667" y2="410.241" stroke="#222" stroke-width="1.0"/>
<line x1="298.7666666666667" y1="418.2075" x2="302.56666666666666" y2="418.2075" stroke="#222" stroke-width="1.0"/>
<line x1="298.7666666666667" y1="410.241" x2="302.56666666666666" y2="410.241" stroke="#222" stroke-width="1.0"/>
<rect x="299.06666666666666" y="411.69199999999995" width="3.2" height="3.2" fill="#777" />
<polyline points="197.3,429.2 218.0,430.4 238.7,422.3 259.3,413.6 280.0,396.7 300.7,344.3" fill="none" stroke="#000" stroke-width="2.4" stroke-linejoin="round"/>
<rect x="195.03333333333333" y="426.92499999999995" width="4.6" height="4.6" fill="#000" />
<line x1="218.0" y1="432.615" x2="218.0" y2="428.20799999999997" stroke="#111" stroke-width="1.0"/>
<line x1="215.7" y1="432.615" x2="220.3" y2="432.615" stroke="#111" stroke-width="1.0"/>
<line x1="215.7" y1="428.20799999999997" x2="220.3" y2="428.20799999999997" stroke="#111" stroke-width="1.0"/>
<rect x="215.7" y="428.1115" width="4.6" height="4.6" fill="#000" />
<line x1="238.66666666666669" y1="424.9875" x2="238.66666666666669" y2="419.394" stroke="#111" stroke-width="1.0"/>
<line x1="236.36666666666667" y1="424.9875" x2="240.9666666666667" y2="424.9875" stroke="#111" stroke-width="1.0"/>
<line x1="236.36666666666667" y1="419.394" x2="240.9666666666667" y2="419.394" stroke="#111" stroke-width="1.0"/>
<rect x="236.36666666666667" y="419.97549999999995" width="4.6" height="4.6" fill="#000" />
<line x1="259.33333333333337" y1="417.36" x2="259.33333333333337" y2="408.885" stroke="#111" stroke-width="1.0"/>
<line x1="257.03333333333336" y1="417.36" x2="261.6333333333334" y2="417.36" stroke="#111" stroke-width="1.0"/>
<line x1="257.03333333333336" y1="408.885" x2="261.6333333333334" y2="408.885" stroke="#111" stroke-width="1.0"/>
<rect x="257.03333333333336" y="411.33099999999996" width="4.6" height="4.6" fill="#000" />
<line x1="280.0" y1="402.105" x2="280.0" y2="391.0875" stroke="#111" stroke-width="1.0"/>
<line x1="277.7" y1="402.105" x2="282.3" y2="402.105" stroke="#111" stroke-width="1.0"/>
<line x1="277.7" y1="391.0875" x2="282.3" y2="391.0875" stroke="#111" stroke-width="1.0"/>
<rect x="277.7" y="394.381" width="4.6" height="4.6" fill="#000" />
<line x1="300.6666666666667" y1="351.255" x2="300.6666666666667" y2="335.322" stroke="#111" stroke-width="1.0"/>
<line x1="298.3666666666667" y1="351.255" x2="302.9666666666667" y2="351.255" stroke="#111" stroke-width="1.0"/>
<line x1="298.3666666666667" y1="335.322" x2="302.9666666666667" y2="335.322" stroke="#111" stroke-width="1.0"/>
<rect x="298.3666666666667" y="342.0055" width="4.6" height="4.6" fill="#000" />
<path d="M259.33 429.00L259.33 433.00M257.60 430.00L261.07 432.00M261.07 430.00L257.60 432.00" stroke="#666" stroke-width="0.8" fill="none"/>
<path d="M280.00 426.80L280.00 430.80M278.27 427.80L281.73 429.80M281.73 427.80L278.27 429.80" stroke="#666" stroke-width="0.8" fill="none"/>
<path d="M300.67 419.60L300.67 423.60M298.93 420.60L302.40 422.60M302.40 420.60L298.93 422.60" stroke="#666" stroke-width="0.8" fill="none"/>
<path d="M307.2 344.3 H311.0 V413.5 H307.2" stroke="#000" stroke-width="1.3" fill="none" />
<circle cx="314.20" cy="375.20" r="1.3" fill="#222"/>
<text transform="translate(316.5,377.8) scale(0.9527,1)" font-size="8.4" stroke="#1e1e1e" stroke-width="0.2">p&lt;0.05</text>
<rect x="190.6" y="343.8" width="4.2" height="4.2" fill="#000" />
<rect x="190.6" y="354.1" width="4.2" height="3.8" fill="#9a9a9a" />
<text transform="translate(196.4,348.2) scale(0.9145,1)" font-size="8.8" stroke="#1e1e1e" stroke-width="0.2">Karpas</text>
<text transform="translate(196.4,358.3) scale(0.9850,1)" font-size="8.8" stroke="#1e1e1e" stroke-width="0.2">Karpas+5-azacytidine</text>
<text transform="translate(175.8,420.1) rotate(-90) scale(0.8010,1)" font-size="11.0" stroke="#3a3a3a" stroke-width="0.05" fill="#3a3a3a">number of cell X10^5</text>
<line x1="362.6" y1="335.6" x2="362.6" y2="438.2" stroke="#000" stroke-width="1.4"/>
<line x1="361.90000000000003" y1="437.5" x2="488.2" y2="437.5" stroke="#000" stroke-width="1.4"/>
<line x1="362.6" y1="437.5" x2="365.20000000000005" y2="437.5" stroke="#000" stroke-width="1.2"/>
<line x1="362.6" y1="423.0" x2="365.20000000000005" y2="423.0" stroke="#000" stroke-width="1.2"/>
<line x1="362.6" y1="408.5" x2="365.20000000000005" y2="408.5" stroke="#000" stroke-width="1.2"/>
<line x1="362.6" y1="394.0" x2="365.20000000000005" y2="394.0" stroke="#000" stroke-width="1.2"/>
<line x1="362.6" y1="379.5" x2="365.20000000000005" y2="379.5" stroke="#000" stroke-width="1.2"/>
<line x1="362.6" y1="365.0" x2="365.20000000000005" y2="365.0" stroke="#000" stroke-width="1.2"/>
<line x1="362.6" y1="350.5" x2="365.20000000000005" y2="350.5" stroke="#000" stroke-width="1.2"/>
<line x1="362.6" y1="336.0" x2="365.20000000000005" y2="336.0" stroke="#000" stroke-width="1.2"/>
<line x1="383.45000000000005" y1="437.5" x2="383.45000000000005" y2="435.3" stroke="#000" stroke-width="1.1"/>
<line x1="404.3" y1="437.5" x2="404.3" y2="435.3" stroke="#000" stroke-width="1.1"/>
<line x1="425.15" y1="437.5" x2="425.15" y2="435.3" stroke="#000" stroke-width="1.1"/>
<line x1="446.0" y1="437.5" x2="446.0" y2="435.3" stroke="#000" stroke-width="1.1"/>
<line x1="466.85" y1="437.5" x2="466.85" y2="435.3" stroke="#000" stroke-width="1.1"/>
<line x1="487.7" y1="437.5" x2="487.7" y2="435.3" stroke="#000" stroke-width="1.1"/>
<text transform="translate(359.6,439.6)" font-size="6.2" stroke="#333" stroke-width="0.1" text-anchor="end" fill="#333">5</text>
<text transform="translate(359.6,425.1)" font-size="6.2" stroke="#333" stroke-width="0.1" text-anchor="end" fill="#333">10</text>
<text transform="translate(359.6,410.6)" font-size="6.2" stroke="#333" stroke-width="0.1" text-anchor="end" fill="#333">15</text>
<text transform="translate(359.6,396.1)" font-size="6.2" stroke="#333" stroke-width="0.1" text-anchor="end" fill="#333">20</text>
<text transform="translate(359.6,381.6)" font-size="6.2" stroke="#333" stroke-width="0.1" text-anchor="end" fill="#333">25</text>
<text transform="translate(359.6,367.1)" font-size="6.2" stroke="#333" stroke-width="0.1" text-anchor="end" fill="#333">30</text>
<text transform="translate(359.6,352.6)" font-size="6.2" stroke="#333" stroke-width="0.1" text-anchor="end" fill="#333">35</text>
<text transform="translate(359.6,338.1)" font-size="6.2" stroke="#333" stroke-width="0.1" text-anchor="end" fill="#333">40</text>
<text transform="translate(373.02500000000003,446.0)" font-size="6.2" stroke="#333" stroke-width="0.1" text-anchor="middle" fill="#333">1</text>
<text transform="translate(393.875,446.0)" font-size="6.2" stroke="#333" stroke-width="0.1" text-anchor="middle" fill="#333">2</text>
<text transform="translate(414.725,446.0)" font-size="6.2" stroke="#333" stroke-width="0.1" text-anchor="middle" fill="#333">3</text>
<text transform="translate(435.575,446.0)" font-size="6.2" stroke="#333" stroke-width="0.1" text-anchor="middle" fill="#333">4</text>
<text transform="translate(456.425,446.0)" font-size="6.2" stroke="#333" stroke-width="0.1" text-anchor="middle" fill="#333">5</text>
<text transform="translate(477.275,446.0)" font-size="6.2" stroke="#333" stroke-width="0.1" text-anchor="middle" fill="#333">6</text>
<text transform="translate(426.6,452.3) scale(0.9246,1)" font-size="6.4" stroke="#333" stroke-width="0.1" text-anchor="middle" fill="#333">days</text>
<polyline points="373.0,437.5 393.9,430.8 414.7,428.2 435.6,428.5 456.4,418.9 477.3,423.0" fill="none" stroke="#9a9a9a" stroke-width="2.2" stroke-linejoin="round"/>
<rect x="371.425" y="435.9" width="3.2" height="3.2" fill="#777" />
<line x1="393.875" y1="434.6" x2="393.875" y2="427.06" stroke="#222" stroke-width="1.0"/>
<line x1="391.975" y1="434.6" x2="395.775" y2="434.6" stroke="#222" stroke-width="1.0"/>
<line x1="391.975" y1="427.06" x2="395.775" y2="427.06" stroke="#222" stroke-width="1.0"/>
<rect x="392.275" y="429.22999999999996" width="3.2" height="3.2" fill="#777" />
<line x1="414.725" y1="432.57" x2="414.725" y2="424.45" stroke="#222" stroke-width="1.0"/>
<line x1="412.82500000000005" y1="432.57" x2="416.625" y2="432.57" stroke="#222" stroke-width="1.0"/>
<line x1="412.82500000000005" y1="424.45" x2="416.625" y2="424.45" stroke="#222" stroke-width="1.0"/>
<rect x="413.125" y="426.62" width="3.2" height="3.2" fill="#777" />
<line x1="435.575" y1="432.28" x2="435.575" y2="424.16" stroke="#222" stroke-width="1.0"/>
<line x1="433.675" y1="432.28" x2="437.47499999999997" y2="432.28" stroke="#222" stroke-width="1.0"/>
<line x1="433.675" y1="424.16" x2="437.47499999999997" y2="424.16" stroke="#222" stroke-width="1.0"/>
<rect x="433.97499999999997" y="426.90999999999997" width="3.2" height="3.2" fill="#777" />
<line x1="456.425" y1="423.0" x2="456.425" y2="414.88" stroke="#222" stroke-width="1.0"/>
<line x1="454.52500000000003" y1="423.0" x2="458.325" y2="423.0" stroke="#222" stroke-width="1.0"/>
<line x1="454.52500000000003" y1="414.88" x2="458.325" y2="414.88" stroke="#222" stroke-width="1.0"/>
<rect x="454.825" y="417.34" width="3.2" height="3.2" fill="#777" />
<line x1="477.275" y1="425.9" x2="477.275" y2="420.1" stroke="#222" stroke-width="1.0"/>
<line x1="475.375" y1="425.9" x2="479.17499999999995" y2="425.9" stroke="#222" stroke-width="1.0"/>
<line x1="475.375" y1="420.1" x2="479.17499999999995" y2="420.1" stroke="#222" stroke-width="1.0"/>
<rect x="475.67499999999995" y="421.4" width="3.2" height="3.2" fill="#777" />
<polyline points="373.0,437.5 393.9,430.8 414.7,423.0 435.6,416.3 456.4,384.7 477.3,349.3" fill="none" stroke="#000" stroke-width="2.4" stroke-linejoin="round"/>
<rect x="370.725" y="435.2" width="4.6" height="4.6" fill="#000" />
<line x1="393.875" y1="434.6" x2="393.875" y2="426.48" stroke="#111" stroke-width="1.0"/>
<line x1="391.575" y1="434.6" x2="396.175" y2="434.6" stroke="#111" stroke-width="1.0"/>
<line x1="391.575" y1="426.48" x2="396.175" y2="426.48" stroke="#111" stroke-width="1.0"/>
<rect x="391.575" y="428.53" width="4.6" height="4.6" fill="#000" />
<line x1="414.725" y1="425.9" x2="414.725" y2="420.1" stroke="#111" stroke-width="1.0"/>
<line x1="412.425" y1="425.9" x2="417.02500000000003" y2="425.9" stroke="#111" stroke-width="1.0"/>
<line x1="412.425" y1="420.1" x2="417.02500000000003" y2="420.1" stroke="#111" stroke-width="1.0"/>
<rect x="412.425" y="420.7" width="4.6" height="4.6" fill="#000" />
<line x1="435.575" y1="420.1" x2="435.575" y2="411.4" stroke="#111" stroke-width="1.0"/>
<line x1="433.275" y1="420.1" x2="437.875" y2="420.1" stroke="#111" stroke-width="1.0"/>
<line x1="433.275" y1="411.4" x2="437.875" y2="411.4" stroke="#111" stroke-width="1.0"/>
<rect x="433.275" y="414.03" width="4.6" height="4.6" fill="#000" />
<line x1="456.425" y1="390.52" x2="456.425" y2="377.76" stroke="#111" stroke-width="1.0"/>
<line x1="454.125" y1="390.52" x2="458.725" y2="390.52" stroke="#111" stroke-width="1.0"/>
<line x1="454.125" y1="377.76" x2="458.725" y2="377.76" stroke="#111" stroke-width="1.0"/>
<rect x="454.125" y="382.42" width="4.6" height="4.6" fill="#000" />
<line x1="477.275" y1="352.24" x2="477.275" y2="346.44" stroke="#111" stroke-width="1.0"/>
<line x1="474.97499999999997" y1="352.24" x2="479.575" y2="352.24" stroke="#111" stroke-width="1.0"/>
<line x1="474.97499999999997" y1="346.44" x2="479.575" y2="346.44" stroke="#111" stroke-width="1.0"/>
<rect x="474.97499999999997" y="347.04" width="4.6" height="4.6" fill="#000" />
<path d="M435.57 431.90L435.57 435.90M433.84 432.90L437.31 434.90M437.31 432.90L433.84 434.90" stroke="#666" stroke-width="0.8" fill="none"/>
<path d="M456.43 425.10L456.43 429.10M454.69 426.10L458.16 428.10M458.16 426.10L454.69 428.10" stroke="#666" stroke-width="0.8" fill="none"/>
<path d="M477.27 429.10L477.27 433.10M475.54 430.10L479.01 432.10M479.01 430.10L475.54 432.10" stroke="#666" stroke-width="0.8" fill="none"/>
<path d="M485.6 349.1 H490.5 V423.4 H485.6" stroke="#000" stroke-width="1.3" fill="none" />
<circle cx="492.40" cy="386.20" r="1.3" fill="#222"/>
<text transform="translate(494.70000000000005,388.8) scale(0.9836,1)" font-size="8.4" stroke="#1e1e1e" stroke-width="0.2">p&lt;0.05</text>
<rect x="370.8" y="343.70000000000005" width="4.2" height="4.2" fill="#000" />
<rect x="370.8" y="354.0" width="4.2" height="3.8" fill="#9a9a9a" />
<text transform="translate(376.6,348.1) scale(0.9931,1)" font-size="8.8" stroke="#1e1e1e" stroke-width="0.2">DEL</text>
<text transform="translate(376.6,358.2) scale(0.9958,1)" font-size="8.8" stroke="#1e1e1e" stroke-width="0.2">DEL+5-azacytidine</text>
<text transform="translate(351.0,427.5) rotate(-90) scale(0.8165,1)" font-size="11.0" stroke="#3a3a3a" stroke-width="0.05" fill="#3a3a3a">number of cell X10^5</text>
</g>
</svg>
</body></html>
